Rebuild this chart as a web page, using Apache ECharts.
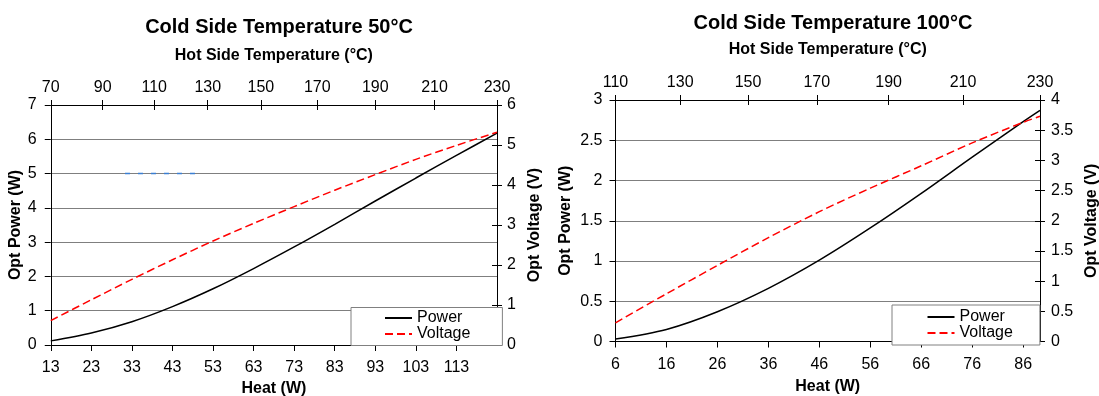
<!DOCTYPE html>
<html>
<head>
<meta charset="utf-8">
<script src="https://cdn.jsdelivr.net/npm/echarts@6/dist/echarts.min.js"></script>
<style>
html,body{margin:0;padding:0;background:#fff;}
#c{width:1099px;height:396px;}
</style>
</head>
<body>
<div id="c"></div>
<script>
// ---- Data: Cold side 50°C ----
const heat50 = [13, 23, 33, 43, 53, 63, 73, 83, 93, 103, 113, 123];
const power50 = [0.12, 0.35, 0.68, 1.12, 1.64, 2.23, 2.86, 3.52, 4.2, 4.87, 5.53, 6.18];
const voltage50 = [0.61, 1.13, 1.64, 2.13, 2.6, 3.04, 3.46, 3.87, 4.26, 4.64, 4.99, 5.32];
const hotTemp50 = [70, 90, 110, 130, 150, 170, 190, 210, 230];
const hotTempHeat50 = [13, 25.8, 38.5, 51.7, 64.8, 78.7, 93, 107.6, 123];
const strayHeat50 = [31.3, 49.6];
const strayValue50 = [5, 5];

// ---- Data: Cold side 100°C ----
const heat100 = [6, 16, 26, 36, 46, 56, 66, 76, 86, 89.3];
const power100 = [0.03, 0.15, 0.37, 0.66, 1.01, 1.41, 1.84, 2.29, 2.73, 2.87];
const voltage100 = [0.31, 0.79, 1.26, 1.72, 2.15, 2.54, 2.91, 3.29, 3.63, 3.73];
const hotTemp100 = [110, 130, 150, 170, 190, 210, 230];
const hotTempHeat100 = [6, 18.7, 32, 45.5, 59.6, 74.2, 89.3];

const titles = ['Cold Side Temperature 50°C', 'Cold Side Temperature 100°C'];
const legendNames = ['Power', 'Voltage'];

function zip(a, b) { return a.map((v, i) => [v, b[i]]); }
function nearestLabel(pos, labels, v) {
  let best = 0, bd = Infinity;
  pos.forEach((p, i) => { const d = Math.abs(p - v); if (d < bd) { bd = d; best = i; } });
  return String(labels[best]);
}

const FONT = "'Liberation Sans', Arial, sans-serif";
const BLACK = '#000';
const GRID = '#7f7f7f';

function bottomAxis(gi, min, max, nameGap) {
  return {
    type: 'value', gridIndex: gi, position: 'bottom', min: min, max: max, interval: 10,
    name: 'Heat (W)', nameLocation: 'middle', nameGap: nameGap,
    nameTextStyle: { fontFamily: FONT, fontSize: 16, fontWeight: 'bold', color: BLACK },
    axisLine: { show: true, onZero: false, lineStyle: { color: BLACK, width: 1 } },
    axisTick: { show: true, inside: false, length: 6, lineStyle: { color: BLACK } },
    axisLabel: { show: true, margin: 15, fontFamily: FONT, fontSize: 16, color: BLACK, showMaxLabel: false, hideOverlap: false },
    splitLine: { show: false }
  };
}
function topAxis(gi, min, max, pos, labels, nameGap) {
  return {
    type: 'value', gridIndex: gi, position: 'top', min: min, max: max,
    name: 'Hot Side Temperature (°C)', nameLocation: 'middle', nameGap: nameGap,
    nameTextStyle: { fontFamily: FONT, fontSize: 16, fontWeight: 'bold', color: BLACK },
    axisLine: { show: true, onZero: false, lineStyle: { color: BLACK, width: 1 } },
    axisTick: { show: true, inside: false, length: 5, customValues: pos, lineStyle: { color: BLACK } },
    axisLabel: { show: true, margin: 9, fontFamily: FONT, fontSize: 16, color: BLACK, customValues: pos,
      hideOverlap: false, formatter: v => nearestLabel(pos, labels, v) },
    splitLine: { show: false }
  };
}
function topInside(gi, min, max, pos) {
  return {
    type: 'value', gridIndex: gi, position: 'top', min: min, max: max,
    axisLine: { show: false, onZero: false },
    axisTick: { show: true, inside: true, length: 5, customValues: pos, lineStyle: { color: BLACK } },
    axisLabel: { show: false }, splitLine: { show: false }
  };
}
function leftAxis(gi, max, interval, margin, nameGap) {
  return {
    type: 'value', gridIndex: gi, position: 'left', min: 0, max: max, interval: interval,
    name: 'Opt Power (W)', nameLocation: 'middle', nameGap: nameGap,
    nameTextStyle: { fontFamily: FONT, fontSize: 16, fontWeight: 'bold', color: BLACK },
    axisLine: { show: true, onZero: false, lineStyle: { color: BLACK, width: 1 } },
    axisTick: { show: true, inside: false, length: 6, lineStyle: { color: BLACK } },
    axisLabel: { margin: margin, fontFamily: FONT, fontSize: 16, color: BLACK },
    splitLine: { show: true, lineStyle: { color: GRID, width: 1 } }
  };
}
function rightAxis(gi, max, interval, margin, nameGap) {
  return {
    type: 'value', gridIndex: gi, position: 'right', min: 0, max: max, interval: interval,
    name: 'Opt Voltage (V)', nameLocation: 'middle', nameGap: nameGap,
    nameTextStyle: { fontFamily: FONT, fontSize: 16, fontWeight: 'bold', color: BLACK },
    axisLine: { show: true, onZero: false, lineStyle: { color: BLACK, width: 1 } },
    axisTick: { show: true, inside: false, length: 5, lineStyle: { color: BLACK } },
    axisLabel: { margin: margin, fontFamily: FONT, fontSize: 16, color: BLACK },
    splitLine: { show: false }
  };
}
function rightInside(gi, max, interval) {
  return {
    type: 'value', gridIndex: gi, position: 'right', min: 0, max: max, interval: interval,
    axisLine: { show: false, onZero: false },
    axisTick: { show: true, inside: true, length: 5, lineStyle: { color: BLACK } },
    axisLabel: { show: false }, splitLine: { show: false }
  };
}
function lineSeries(name, xi, yi, data, color, dashed) {
  return {
    type: 'line', name: name, xAxisIndex: xi, yAxisIndex: yi, data: data,
    showSymbol: false, symbol: 'none', smooth: 0.3,
    lineStyle: { color: color, width: 1.5, type: dashed ? [8, 4] : 'solid' },
    itemStyle: { color: color }, animation: false, z: 3
  };
}
function legend(left, top, padding, lh) {
  return {
    data: legendNames, orient: 'vertical', left: left, top: top, padding: padding,
    itemGap: 0, itemWidth: 27, itemHeight: 12, selectedMode: false,
    itemStyle: { opacity: 0 },
    backgroundColor: '#fff', borderColor: '#808080', borderWidth: 1, borderRadius: 0,
    textStyle: { fontFamily: FONT, fontSize: 16, color: BLACK, lineHeight: lh }
  };
}

const chart = echarts.init(document.getElementById('c'), null, { renderer: 'canvas' });
chart.setOption({
  animation: false,
  backgroundColor: '#fff',
  title: [
    { text: titles[0], left: 279, top: 17, textAlign: 'center', padding: 0,
      textStyle: { fontFamily: FONT, fontSize: 20, fontWeight: 'bold', color: BLACK } },
    { text: titles[1], left: 833, top: 13, textAlign: 'center', padding: 0,
      textStyle: { fontFamily: FONT, fontSize: 20, fontWeight: 'bold', color: BLACK } }
  ],
  grid: [
    { left: 50.75, top: 105, width: 446.25, height: 240, containLabel: false, outerBoundsMode: 'none' },
    { left: 615.5, top: 100, width: 424.5, height: 241.5, containLabel: false, outerBoundsMode: 'none' }
  ],
  xAxis: [
    bottomAxis(0, heat50[0], heat50[heat50.length - 1], 35),
    topAxis(0, heat50[0], heat50[heat50.length - 1], hotTempHeat50, hotTemp50, 41),
    topInside(0, heat50[0], heat50[heat50.length - 1], hotTempHeat50),
    bottomAxis(1, heat100[0], heat100[heat100.length - 1], 37),
    topAxis(1, heat100[0], heat100[heat100.length - 1], hotTempHeat100, hotTemp100, 42),
    topInside(1, heat100[0], heat100[heat100.length - 1], hotTempHeat100)
  ],
  yAxis: [
    leftAxis(0, 7, 1, 14, 27),
    rightAxis(0, 6, 1, 10, 30),
    rightInside(0, 6, 1),
    leftAxis(1, 3, 0.5, 13, 42),
    rightAxis(1, 4, 0.5, 11, 44),
    rightInside(1, 4, 0.5)
  ],
  legend: [
    legend(351, 307.5, [2.5, 32, 3.5, 33], 16),
    legend(892, 305, [4, 27, 4, 34.5], 15)
  ],
  series: [
    lineSeries('Power', 0, 0, zip(heat50, power50), '#000000', false),
    lineSeries('Voltage', 0, 1, zip(heat50, voltage50), '#ff0000', true),
    {
      type: 'line', name: 'stray', xAxisIndex: 0, yAxisIndex: 0, data: zip(strayHeat50, strayValue50),
      showSymbol: false, symbol: 'none', silent: true,
      lineStyle: { color: '#3c7fd2', width: 1.5, type: [5, 8] }, z: 3
    },
    lineSeries('Power', 3, 3, zip(heat100, power100), '#000000', false),
    lineSeries('Voltage', 3, 4, zip(heat100, voltage100), '#ff0000', true)
  ]
});
</script>
</body>
</html>
